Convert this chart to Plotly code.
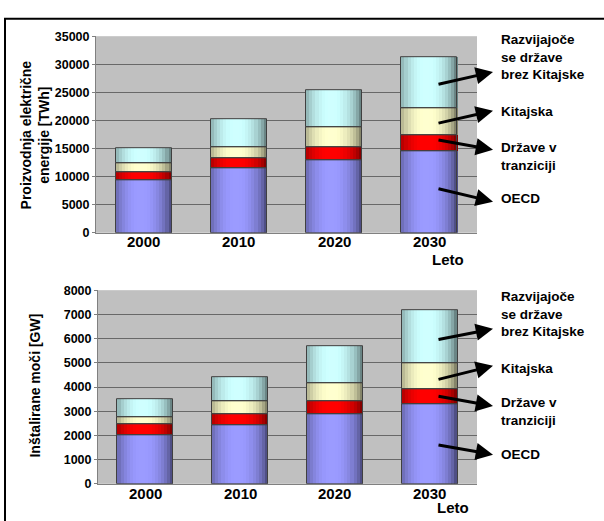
import plotly.graph_objects as go
from plotly.subplots import make_subplots

# ---------------- data ----------------
years = ['2000', '2010', '2020', '2030']
series_names = ['OECD', 'Države v tranziciji', 'Kitajska', 'Razvijajoče se države brez Kitajske']

# electricity production [TWh]
oecd_twh = [9400, 11500, 13000, 14600]
trans_twh = [1450, 1750, 2220, 2750]
china_twh = [1450, 2050, 3590, 4750]
dev_twh = [2800, 4850, 6490, 9150]

# installed capacity [GW]
oecd_gw = [2020, 2420, 2870, 3300]
trans_gw = [430, 475, 540, 600]
china_gw = [310, 500, 740, 1100]
dev_gw = [740, 1010, 1550, 2170]

y_ticks_twh = [0, 5000, 10000, 15000, 20000, 25000, 30000, 35000]
y_ticks_gw = [0, 1000, 2000, 3000, 4000, 5000, 6000, 7000, 8000]

# ---------------- style ----------------
base_colors = [(0x99, 0x99, 0xFF), (0xFF, 0x00, 0x00), (0xFF, 0xFF, 0xCC), (0xCC, 0xFF, 0xFF)]
BAR_W = 0.59
N_SLICES = 18
FONT = 'Liberation Sans, Arial, sans-serif'
W, H = 604, 521


def shade(rgb, t):
    # cylinder-like shading: dark edges, bright slightly left of center
    d = (t - 0.45) / 0.55
    s = 0.40 + 0.62 * max(0.0, 1 - d * d) ** 0.7
    r, g, b = (max(0, min(255, int(c * s))) for c in rgb)
    return f'rgb({r},{g},{b})'


fig = make_subplots(rows=2, cols=1)


def add_stack(segments, row):
    bases = [0] * len(years)
    outlines = []
    for k, seg in enumerate(segments):
        for i in range(N_SLICES):
            t = (i + 0.5) / N_SLICES
            fig.add_trace(go.Bar(
                x=years, y=seg, base=bases,
                width=BAR_W / N_SLICES * 1.05,
                offset=-BAR_W / 2 + i * BAR_W / N_SLICES,
                marker=dict(color=shade(base_colors[k], t), line=dict(width=0)),
                showlegend=False, hoverinfo='skip'), row=row, col=1)
        outlines.append((seg, list(bases), series_names[k]))
        bases = [b + v for b, v in zip(bases, seg)]
    for seg, bs, nm in outlines:
        fig.add_trace(go.Bar(
            x=years, y=seg, base=bs, width=BAR_W, offset=-BAR_W / 2,
            marker=dict(color='rgba(0,0,0,0)', line=dict(width=1, color='#404040')),
            name=nm, showlegend=False, hoverinfo='skip'), row=row, col=1)


add_stack([oecd_twh, trans_twh, china_twh, dev_twh], 1)
add_stack([oecd_gw, trans_gw, china_gw, dev_gw], 2)

fig.update_layout(
    width=W, height=H, barmode='overlay', bargap=0,
    margin=dict(l=0, r=0, t=0, b=0),
    paper_bgcolor='white', plot_bgcolor='#C0C0C0',
    font=dict(family=FONT, color='black'),
    showlegend=False,
)

xa = dict(type='category', categoryarray=years, categoryorder='array', range=[-0.5, len(years) - 0.5],
          showgrid=False, showline=True, linecolor='#808080', linewidth=1, ticks='', showticklabels=False)
fig.update_xaxes(domain=[96 / W, 477 / W], **xa, row=1, col=1)
fig.update_xaxes(domain=[98 / W, 477 / W], **xa, row=2, col=1)

ya = dict(showgrid=True, gridcolor='#686868', gridwidth=1, showline=True, linecolor='#808080',
          linewidth=1, ticks='outside', ticklen=3, tickcolor='#808080',
          tickfont=dict(size=12.5, family=FONT, color='black'), zeroline=False)
fig.update_yaxes(domain=[1 - 232 / H, 1 - 30 / H], range=[0, 35000], tickvals=y_ticks_twh,
                 ticktext=[f'<b>{v}</b>' for v in y_ticks_twh], **ya, row=1, col=1)
fig.update_yaxes(domain=[1 - 490 / H, 1 - 291 / H], range=[0, 8000], tickvals=y_ticks_gw,
                 ticktext=[f'<b>{v}</b>' for v in y_ticks_gw], **ya, row=2, col=1)

ann = []


def px(x, y):
    return x / W, 1 - y / H


txtfont = dict(family=FONT, size=14, color='black')

# year labels (category axis labels) placed just under each plot; x = category index
for xref, ypx in (('x', 241), ('x2', 499.5)):
    for i, yr in enumerate(years):
        ann.append(dict(x=i, y=1 - ypx / H, xref=xref, yref='paper', text=f'<b>{yr}</b>',
                        showarrow=False, xanchor='center', yanchor='middle',
                        font=dict(family=FONT, size=15, color='black')))

# y titles
x0, y0 = px(35, 132)
ann.append(dict(x=x0, y=y0, xref='paper', yref='paper', text='<b>Proizvodnja električne<br>energije [TWh]</b>',
                textangle=-90, showarrow=False, font=txtfont, xanchor='center', yanchor='middle'))
x0, y0 = px(35, 389)
ann.append(dict(x=x0, y=y0, xref='paper', yref='paper', text='<b>Inštalirane moči [GW]</b>',
                textangle=-90, showarrow=False, font=txtfont, xanchor='center', yanchor='middle'))
# "Leto"
x0, y0 = px(448, 259)
ann.append(dict(x=x0, y=y0, xref='paper', yref='paper', text='<b>Leto</b>', showarrow=False,
                font=dict(family=FONT, size=15, color='black'), xanchor='center', yanchor='middle'))
ann.append(dict(x=453 / W, y=0, xref='paper', yref='paper', text='<b>Leto</b>', showarrow=False,
                font=dict(family=FONT, size=15, color='black'), xanchor='center', yanchor='bottom',
                yshift=-4))

# series labels
label_texts = ['Razvijajoče<br>se države<br>brez Kitajske', 'Kitajska', 'Države v<br>tranziciji', 'OECD']
label_y_top = [51.8, 107.3, 153.5, 196.7]
label_y_bot = [315.5, 371.7, 415.7, 460]
for txt, yt, yb in zip(label_texts, label_y_top, label_y_bot):
    for yy in (yt, yb):
        x0, y0 = px(499, yy)
        ann.append(dict(x=x0, y=y0, xref='paper', yref='paper', text=f'<b>{txt}</b>', showarrow=False,
                        align='left', xanchor='left', yanchor='middle',
                        font=dict(family=FONT, size=13.5, color='black')))

# arrows: (head_x, head_y, tail_x, tail_y)
arrows = [
    (493, 66.7, 437, 79.3), (493, 106.7, 437, 119.3), (493, 146.7, 437, 136.7), (493, 200, 437, 186.7),
    (493, 330.7, 437, 341.7), (493, 368.7, 437, 382.7), (493, 410, 437, 400), (493, 460, 437, 450),
]
for hx, hy, tx, ty in arrows:
    x0, y0 = px(hx, hy)
    ann.append(dict(x=x0, y=y0, xref='paper', yref='paper', text='', showarrow=True,
                    ax=tx - hx, ay=ty - hy, axref='pixel', ayref='pixel',
                    arrowhead=2, arrowsize=1.15, arrowwidth=3, arrowcolor='black', standoff=0))

fig.update_layout(annotations=ann)

# outer frame (only top and left edges visible)
fig.add_shape(type='rect', xref='paper', yref='paper', x0=5 / W, x1=1.05, y0=-0.05, y1=1 - 12 / H,
              line=dict(color='black', width=2), fillcolor='rgba(0,0,0,0)')

fig.write_html('out.html')
